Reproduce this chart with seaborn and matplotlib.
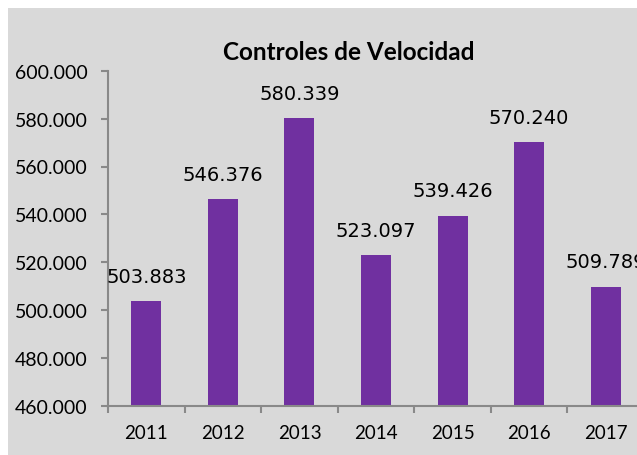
import matplotlib
matplotlib.use("Agg")
import matplotlib.pyplot as plt
import seaborn as sns
import pandas as pd
from matplotlib.patches import Rectangle
from matplotlib.ticker import FixedLocator, FuncFormatter

years = ["2011", "2012", "2013", "2014", "2015", "2016", "2017"]
values = [503883, 546376, 580339, 523097, 539426, 570240, 509789]
title = "Controles de Velocidad"
yticks = [460000, 480000, 500000, 520000, 540000, 560000, 580000, 600000]

df = pd.DataFrame({"year": years, "value": values})

sns.set_style("white")
plt.rcParams["font.family"] = ["Lato", "DejaVu Sans"]

bg = "#D9D9D9"
spine_c = "#898989"
bar_c = "#7030A0"

fig = plt.figure(figsize=(6.37, 4.56), dpi=100)
fig.patch.set_facecolor("white")
fig.patches.append(Rectangle((8 / 637, 0), 1, 1 - 9 / 456, transform=fig.transFigure,
                             facecolor=bg, edgecolor="none", zorder=-10))

ax = fig.add_axes([108 / 637, 49 / 456, 536 / 637, 335.3 / 456])
ax.set_facecolor(bg)
sns.barplot(data=df, x="year", y="value", color=bar_c, width=0.39, saturation=1,
            linewidth=0, edgecolor=bar_c, ax=ax)
ax.set_ylim(460000, 600000)
ax.set_xlim(-0.5, 6.5)
ax.set_yticks(yticks)
ax.yaxis.set_major_formatter(FuncFormatter(lambda v, p: f"{v:,.0f}".replace(",", ".")))
ax.set_xlabel("")
ax.set_ylabel("")

for s in ["top", "right"]:
    ax.spines[s].set_visible(False)
for s in ["left", "bottom"]:
    ax.spines[s].set_color(spine_c)
    ax.spines[s].set_linewidth(1.5)

ax.tick_params(axis="y", which="major", length=5, width=1.5, color=spine_c,
               labelsize=14, pad=9.5, left=True, labelcolor="black")
ax.tick_params(axis="x", which="major", length=0, labelsize=13.5, pad=13, labelcolor="black")
ax.xaxis.set_minor_locator(FixedLocator([-0.5, 0.5, 1.5, 2.5, 3.5, 4.5, 5.5, 6.5]))
ax.tick_params(axis="x", which="minor", length=5, width=1.5, color=spine_c, bottom=True)

labels = [f"{v:,.0f}".replace(",", ".") for v in values]
ax.bar_label(ax.containers[0], labels=labels, padding=11, fontsize=14,
             family="DejaVu Sans", color="black", clip_on=False)

fig.text(349 / 637, 1 - 53 / 456, title, ha="center", va="center",
         fontsize=17.5, fontweight="bold", color="black")

fig.savefig("out.png", dpi=100)
